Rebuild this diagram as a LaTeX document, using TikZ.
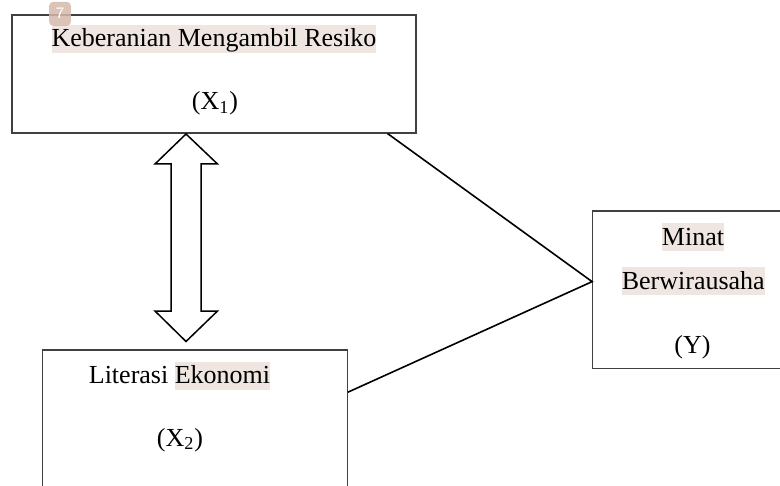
\documentclass[tikz,border=0pt]{standalone}
\usepackage{fontspec}
\setmainfont{Liberation Serif}
\usetikzlibrary{calc}
\definecolor{hlbg}{RGB}{239,230,225}
\definecolor{badgecol}{RGB}{214,184,172}
\newcommand{\hlt}[1]{{\setlength{\fboxsep}{0pt}\colorbox{hlbg}{\rule[-3.2pt]{0pt}{14pt}#1}}}

\begin{document}
\begin{tikzpicture}[x=0.5pt,y=-0.5pt,
    varbox/.style={draw=black!75, line width=0.6pt, rectangle, inner sep=0pt},
    lbl/.style={anchor=base, inner sep=0pt, font=\fontsize{13}{15}\selectfont},
    link/.style={line width=0.8pt}]
  \useasboundingbox (0,0) rectangle (780,486);
  \clip (0,0) rectangle (780,486);
  % variable boxes
  \node[varbox, minimum width=202pt, minimum height=59pt] (x1) at (214,74) {};
  \node[varbox, minimum width=152.5pt, minimum height=80pt] (x2) at (194.8,430) {};
  \node[varbox, minimum width=103.65pt, minimum height=78.65pt] (y) at (696.35,289.65) {};
  % labels
  \node[lbl] (x1name) at (214,46.7) {\hlt{Keberanian Mengambil Resiko}};
  \node[lbl] (x1sym) at (215,110) {(X\textsubscript{1})};
  \node[lbl] (x2name) at (179.5,383.3) {Literasi \hlt{Ekonomi}};
  \node[lbl] (x2sym) at (180,446) {(X\textsubscript{2})};
  \node[lbl] (yname1) at (693,245) {\hlt{Minat}};
  \node[lbl] (yname2) at (693.3,289) {\hlt{Berwirausaha}};
  \node[lbl] (ysym) at (692.5,353) {(Y)};
  \node[fill=badgecol, fill opacity=0.85, text opacity=1, rounded corners=2pt,
        minimum width=10.85pt, minimum height=12pt, inner sep=0pt, text=white,
        font=\sffamily\fontsize{8}{8}\selectfont] (badge) at (60,13.8) {7};
  % double arrow X1 <-> X2
  \draw[line width=0.75pt, fill=white] (186,134) -- (217.5,164) -- (201,164) -- (201,311)
    -- (217.5,311) -- (186,341.5) -- (155,311) -- (171,311) -- (171,164) -- (155,164) -- cycle;
  % links to Y
  \coordinate (p1) at ($(x1.south east)+(-29,0)$);
  \coordinate (p3) at ($(y.west)+(0,-8)$);
  \coordinate (p2) at ($(x2.north east)+(0,42.8)$);
  \draw[link] (p1) -- (p3) -- (p2);
\end{tikzpicture}
\end{document}
